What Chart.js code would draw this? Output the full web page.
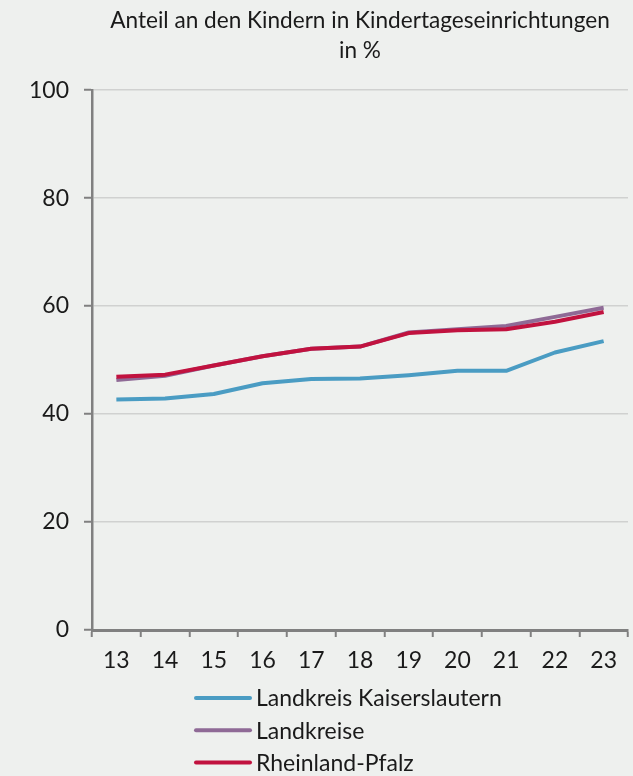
<!DOCTYPE html>
<html>
<head>
<meta charset="utf-8">
<script src="https://cdn.jsdelivr.net/npm/chart.js@4/dist/chart.umd.min.js"></script>
<style>
  html, body { margin: 0; padding: 0; background: #eef0ee; }
  #wrap { width: 633px; height: 776px; }
</style>
</head>
<body>
<div id="wrap"><canvas id="c" width="633" height="776"></canvas></div>
<script>
const categories = ["13", "14", "15", "16", "17", "18", "19", "20", "21", "22", "23"];
const seriesNames = ["Landkreis Kaiserslautern", "Landkreise", "Rheinland-Pfalz"];
const kaiserslautern = [42.7, 42.9, 43.7, 45.7, 46.5, 46.6, 47.2, 48.0, 48.0, 51.4, 53.5];
const landkreise = [46.3, 47.1, 49.0, 50.7, 52.1, 52.5, 55.1, 55.7, 56.3, 58.0, 59.7];
const rheinlandPfalz = [46.9, 47.3, 49.0, 50.7, 52.1, 52.5, 55.0, 55.5, 55.7, 57.1, 58.9];
const yTicks = [0, 20, 40, 60, 80, 100];
const titleLines = ["Anteil an den Kindern in Kindertageseinrichtungen", "in %"];
const colors = ["#4a9cc3", "#8f6a96", "#c1123f"];

const FONT = "Lato, 'Open Sans', sans-serif";
const TEXT = "#1a1a1a";

const legendPlugin = {
  id: "stackedLegend",
  afterDraw(chart) {
    const ctx = chart.ctx;
    const x0 = 196, x1 = 250, tx = 256, y0 = 698, dy = 32.3;
    ctx.save();
    chart.data.datasets.forEach((ds, i) => {
      const y = y0 + i * dy;
      ctx.beginPath();
      ctx.strokeStyle = ds.borderColor;
      ctx.lineWidth = 4;
      ctx.lineCap = "round";
      ctx.moveTo(x0, y);
      ctx.lineTo(x1, y);
      ctx.stroke();
      ctx.fillStyle = TEXT;
      ctx.font = "23px " + FONT;
      ctx.textAlign = "left";
      ctx.textBaseline = "middle";
      ctx.fillText(ds.label, tx, y + 1);
    });
    ctx.restore();
  }
};

new Chart(document.getElementById("c"), {
  type: "line",
  data: {
    labels: categories,
    datasets: [
      { label: seriesNames[0], data: kaiserslautern, borderColor: colors[0], backgroundColor: colors[0], borderWidth: 4, order: 2 },
      { label: seriesNames[1], data: landkreise, borderColor: colors[1], backgroundColor: colors[1], borderWidth: 4, order: 1 },
      { label: seriesNames[2], data: rheinlandPfalz, borderColor: colors[2], backgroundColor: colors[2], borderWidth: 4, order: 0 }
    ]
  },
  options: {
    responsive: false,
    animation: false,
    devicePixelRatio: 1,
    elements: { point: { radius: 0, hoverRadius: 0 }, line: { tension: 0, borderCapStyle: "butt", borderJoinStyle: "round" } },
    layout: { padding: { left: 0, right: 5, top: 0, bottom: 0 } },
    plugins: {
      legend: { display: false },
      tooltip: { enabled: false },
      title: {
        display: true,
        text: titleLines,
        fullSize: false,
        color: TEXT,
        font: { family: FONT, size: 22.6, weight: "normal", lineHeight: 1.33 },
        padding: { top: 6, bottom: 24 }
      }
    },
    scales: {
      x: {
        type: "category",
        offset: true,
        grid: {
          offset: true,
          display: true,
          drawOnChartArea: true,
          color: (c) => (c.index === categories.length ? "#c9cac9" : "rgba(0,0,0,0)"),
          lineWidth: 1.5,
          tickColor: "#808080",
          tickWidth: 2,
          tickLength: 7
        },
        border: { display: true, color: "#808080", width: 3 },
        ticks: { color: TEXT, font: { family: FONT, size: 23 }, padding: 10, maxRotation: 0, autoSkip: false },
        afterFit(scale) { scale.height = 146; }
      },
      y: {
        min: 0,
        max: 100,
        afterBuildTicks(scale) { scale.ticks = yTicks.map(v => ({ value: v })); },
        grid: {
          color: "#d0d1d0",
          lineWidth: 1.5,
          tickColor: "#808080",
          tickWidth: 2,
          tickLength: 8
        },
        border: { display: true, color: "#808080", width: 2.5 },
        ticks: { color: TEXT, font: { family: FONT, size: 23 }, padding: 15 },
        afterFit(scale) { scale.width = 92; }
      }
    }
  },
  plugins: [legendPlugin]
});
</script>
</body>
</html>
